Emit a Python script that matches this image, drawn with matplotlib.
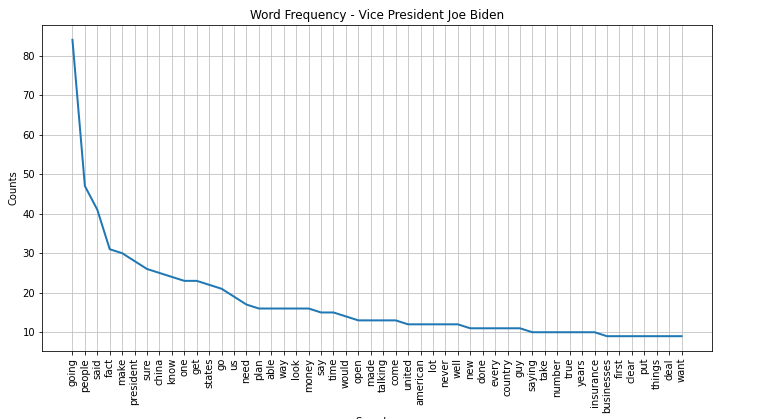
import matplotlib
matplotlib.use("Agg")
import matplotlib.pyplot as plt

# top 50 words and their counts
words = [
    "going", "people", "said", "fact", "make", "president", "sure", "china",
    "know", "one", "get", "states", "go", "us", "need", "plan", "able", "way",
    "look", "money", "say", "time", "would", "open", "made", "talking", "come",
    "united", "american", "lot", "never", "well", "new", "done", "every",
    "country", "guy", "saying", "take", "number", "true", "years", "insurance",
    "businesses", "first", "clear", "put", "things", "deal", "want",
]
counts = [
    84, 47, 41, 31, 30, 28, 26, 25, 24, 23, 23, 22, 21, 19, 17, 16, 16, 16,
    16, 16, 15, 15, 14, 13, 13, 13, 13, 12, 12, 12, 12, 12, 11, 11, 11, 11,
    11, 10, 10, 10, 10, 10, 10, 9, 9, 9, 9, 9, 9, 9,
]

fig = plt.figure(figsize=(759 / 72, 419 / 72), dpi=72)
ax = fig.add_axes([42 / 759, 1 - 351 / 419, 670 / 759, 326 / 419])

ax.plot(range(len(words)), counts, linewidth=2, color="#1f77b4")
ax.grid(True, color="silver")
ax.set_xticks(range(len(words)))
ax.set_xticklabels(words, rotation=90)
ax.set_title("Word Frequency - Vice President Joe Biden")
ax.set_ylabel("Counts")
ax.set_xlabel("Samples")

fig.savefig("out.png", dpi=72)
